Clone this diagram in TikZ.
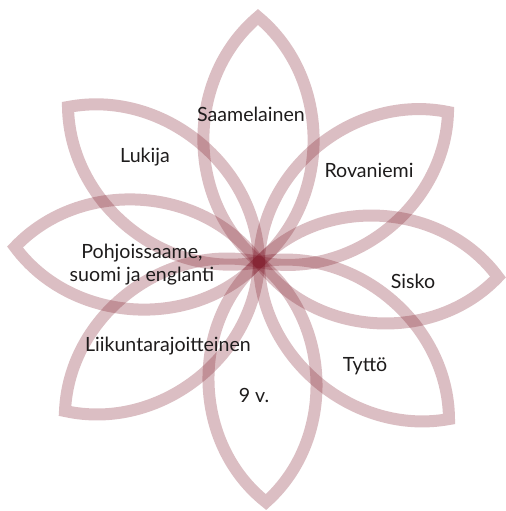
\documentclass[tikz,border=0pt]{standalone}
\usepackage{fontspec}
\setmainfont{Lato}
\usepackage{xcolor}
\usepackage{tikz}
\definecolor{petalred}{RGB}{125,22,38}
\definecolor{labeltext}{RGB}{30,28,28}
\tikzset{
    petal/.style={draw=petalred, line width=6pt, draw opacity=0.28, line join=miter},
    label/.style={text=labeltext, font=\fontsize{9.8}{11.5}\selectfont, align=center, inner sep=0pt}
}

\begin{document}
\begin{tikzpicture}[x=0.5pt, y=-0.5pt]
    \useasboundingbox (0,0) rectangle (506,511);
    \coordinate (centre) at (259,262);
    % petal tips
    \coordinate (tipSaame) at (258,17);
    \coordinate (tipLukija) at (68,107);
    \coordinate (tipRovaniemi) at (448,112);
    \coordinate (tipKieli) at (15,247);
    \coordinate (tipSisko) at (498,277);
    \coordinate (tipLiikunta) at (65,411);
    \coordinate (tipTytto) at (449,419);
    \coordinate (tipIka) at (266,502);
    \foreach \t in {Saame,Lukija,Rovaniemi,Kieli,Sisko,Liikunta,Tytto,Ika}
        \draw[petal] (centre) to[bend left=50] (tip\t) to[bend left=50] cycle;
    \node[label] (saame) at (251,114) {Saamelainen};
    \node[label] (lukija) at (145,157) {Lukija};
    \node[label] (rovaniemi) at (369,170) {Rovaniemi};
    \node[label] (kieli) at (142,265) {Pohjoissaame,\\suomi ja englanti};
    \node[label] (sisko) at (413,281) {Sisko};
    \node[label] (liikunta) at (168,346) {Liikuntarajoitteinen};
    \node[label] (tytto) at (365,366) {Tyttö};
    \node[label] (ika) at (254,395) {9 v.};
\end{tikzpicture}
\end{document}
